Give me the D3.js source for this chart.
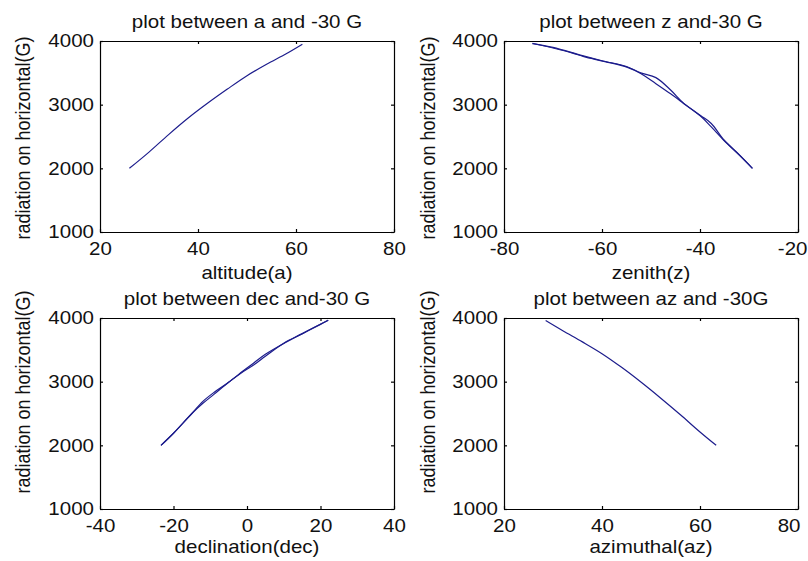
<!DOCTYPE html>
<html>
<head>
<meta charset="utf-8">
<script src="https://cdn.jsdelivr.net/npm/d3@7"></script>
<style>
  html, body { margin: 0; padding: 0; background: #fff; }
  svg { display: block; }
  text { font-family: "Liberation Sans", Arial, sans-serif; fill: #111; }
</style>
</head>
<body>
<svg id="chart" width="808" height="561"></svg>
<script>
// ---------- data ----------
const yTicks = [1000, 2000, 3000, 4000];

const altitude = [26, 30, 34, 38, 42, 46, 50, 54, 58, 61.3];
const gAltitude = [2000, 2255, 2530, 2790, 3025, 3245, 3455, 3635, 3800, 3950];
const altTicks = [20, 40, 60, 80];

// zenith trace: outward and return paths
const zenithOut = [-74.2, -70, -66, -63.7, -59.6, -54.8, -52.1, -49, -46, -43.3, -39.9, -37.7, -35.1, -32, -29.3];
const gZenithOut = [3965, 3890, 3810, 3755, 3680, 3585, 3490, 3330, 3170, 3016, 2821, 2650, 2437, 2210, 2000];
const zenithBack = [-29.3, -32, -35.1, -37.7, -39.9, -43.3, -46, -49, -52.1, -55, -60, -64, -70, -74.2];
const gZenithBack = [2000, 2215, 2445, 2705, 2830, 3020, 3230, 3425, 3500, 3600, 3690, 3770, 3900, 3960];
const zenTicks = [-80, -60, -40, -20];

const declinationOut = [-23.4, -20, -15, -12, -9, -5, -1, 2, 5, 10, 15, 20, 22.1];
const gDeclinationOut = [2000, 2190, 2500, 2690, 2830, 2990, 3170, 3300, 3430, 3600, 3750, 3900, 3965];
const declinationBack = [22.1, 15, 10, 5, 2, -1, -5, -9, -12, -15, -20, -23.4];
const gDeclinationBack = [3965, 3755, 3605, 3400, 3270, 3160, 2990, 2800, 2660, 2500, 2190, 2000];
const decTicks = [-40, -20, 0, 20, 40];

const azimuthal = [28.5, 32, 36, 40, 44, 48, 52, 56, 60, 63.3];
const gAzimuthal = [3960, 3800, 3625, 3440, 3225, 2990, 2740, 2480, 2210, 2000];
const azTicks = [20, 40, 60, 80];

const titles = ["plot between a and -30 G", "plot between z and-30 G", "plot between dec and-30 G", "plot between az and -30G"];
const xLabels = ["altitude(a)", "zenith(z)", "declination(dec)", "azimuthal(az)"];
const yLabel = "radiation on horizontal(G)";

// ---------- layout ----------
const SX = 1.14;          // horizontal text stretch of the reference
const FONT = 18;
const lineColor = "#1c1c8c";

const panels = [
  { series: [[altitude, gAltitude]], ticks: altTicks, dom: [20, 80], l: 100, r: 394, t: 41, b: 232, labOff: 47, ylx: 30, yly: 138, edge: 808 },
  { series: [[zenithOut, gZenithOut], [zenithBack, gZenithBack]], ticks: zenTicks, dom: [-80, -20], l: 504, r: 798, t: 41, b: 232, labOff: 47, ylx: 435, yly: 138, edge: 807 },
  { series: [[declinationOut, gDeclinationOut], [declinationBack, gDeclinationBack]], ticks: decTicks, dom: [-40, 40], l: 100, r: 394, t: 318, b: 509, labOff: 44, ylx: 30, yly: 392, edge: 808 },
  { series: [[azimuthal, gAzimuthal]], ticks: azTicks, dom: [20, 80], l: 504, r: 798, t: 318, b: 509, labOff: 44, ylx: 435, yly: 392, edge: 800 }
];

const svg = d3.select("#chart");
svg.append("rect").attr("width", 808).attr("height", 561).attr("fill", "#fff");

const fmt = d => String(d);

panels.forEach((p, i) => {
  const x = d3.scaleLinear().domain(p.dom).range([p.l, p.r]);
  const y = d3.scaleLinear().domain([1000, 4000]).range([p.b, p.t]);
  const g = svg.append("g");

  const line = d3.line().curve(d3.curveCatmullRom.alpha(0.5)).x(d => x(d[0])).y(d => y(d[1]));
  p.series.forEach(([xs, ys]) => {
    const pts = xs.map((v, k) => [v, ys[k]]);
    g.append("path")
      .datum(pts)
      .attr("fill", "none")
      .attr("stroke", lineColor)
      .attr("stroke-width", 1.2)
      .attr("stroke-linejoin", "round")
      .attr("d", line);
  });

  const styleAxis = sel => {
    sel.select(".domain").attr("stroke", "#000").attr("stroke-width", 1.2);
    sel.selectAll(".tick line").attr("stroke", "#000").attr("stroke-width", 1.2);
    sel.selectAll("text").style("font-family", "'Liberation Sans', Arial, sans-serif")
       .attr("font-size", FONT).attr("fill", "#111");
  };

  const gb = g.append("g").attr("transform", `translate(0,${p.b})`)
    .call(d3.axisBottom(x).tickValues(p.ticks).tickFormat(fmt).tickSizeInner(-3).tickSizeOuter(0).tickPadding(10.5));
  styleAxis(gb);
  gb.selectAll("text").attr("transform", `scale(${SX},1)`);
  // keep last label inside the figure (as the reference does)
  gb.selectAll(".tick").each(function(d) {
    const t = d3.select(this).select("text");
    const w = this.querySelector("text").getComputedTextLength() * SX;
    const right = x(d) + w / 2;
    if (right > p.edge) {
      t.attr("transform", `translate(${p.edge - right},0) scale(${SX},1)`);
    }
  });

  const gt = g.append("g").attr("transform", `translate(0,${p.t})`)
    .call(d3.axisTop(x).tickValues(p.ticks).tickFormat("").tickSizeInner(-3).tickSizeOuter(0));
  styleAxis(gt);

  const gl = g.append("g").attr("transform", `translate(${p.l},0)`)
    .call(d3.axisLeft(y).tickValues(yTicks).tickFormat(fmt).tickSizeInner(-3).tickSizeOuter(0).tickPadding(5.3));
  styleAxis(gl);
  gl.selectAll("text").attr("transform", `scale(${SX},1)`);

  const gr = g.append("g").attr("transform", `translate(${p.r},0)`)
    .call(d3.axisRight(y).tickValues(yTicks).tickFormat("").tickSizeInner(-3).tickSizeOuter(0));
  styleAxis(gr);

  const cx = (p.l + p.r) / 2;
  svg.append("text")
    .attr("transform", `translate(${cx},${p.t - 13.5}) scale(${SX},1)`)
    .attr("text-anchor", "middle").attr("font-size", FONT)
    .text(titles[i]);
  svg.append("text")
    .attr("transform", `translate(${cx},${p.b + p.labOff}) scale(${SX},1)`)
    .attr("text-anchor", "middle").attr("font-size", FONT)
    .text(xLabels[i]);
  svg.append("text")
    .attr("transform", `translate(${p.ylx},${p.yly}) scale(${SX},1) rotate(-90)`)
    .attr("text-anchor", "middle").attr("font-size", FONT)
    .text(yLabel);
});
</script>
</body>
</html>
